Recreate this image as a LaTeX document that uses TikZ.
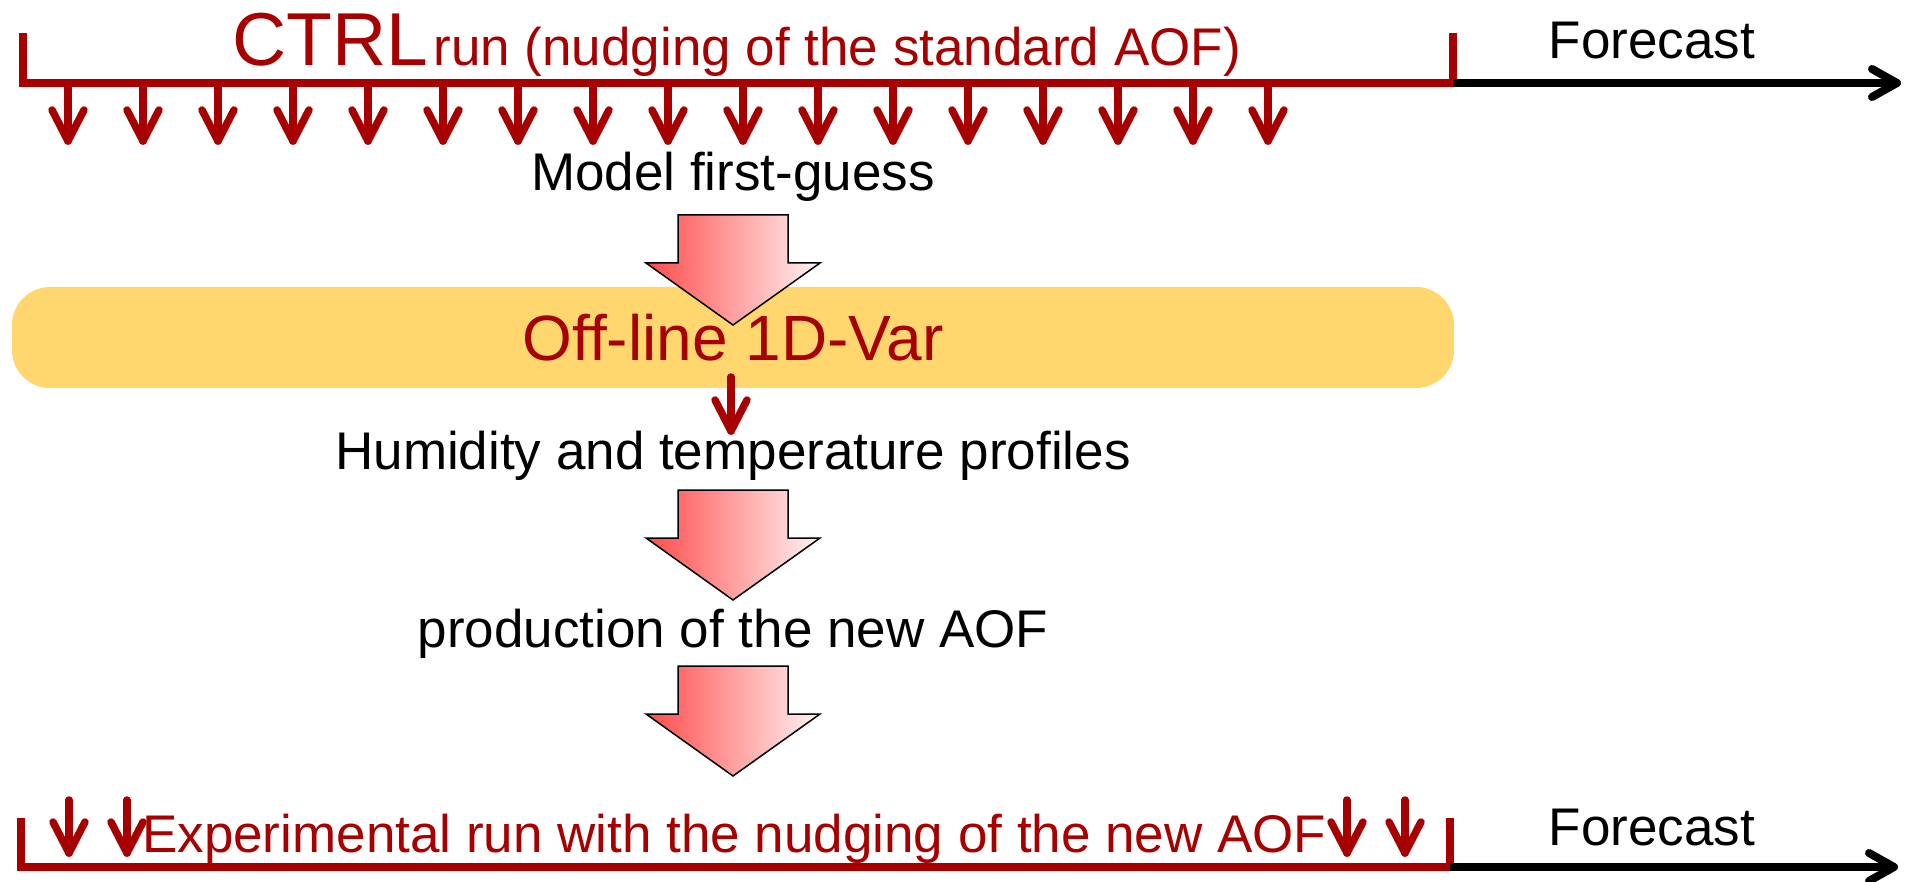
\documentclass[tikz,border=0pt]{standalone}
\usepackage{fontspec}
\setmainfont{Liberation Sans}
\definecolor{runred}{RGB}{166,0,0}
\definecolor{varyellow}{RGB}{255,215,110}
\definecolor{shadered}{RGB}{255,75,75}
\definecolor{shadepink}{RGB}{255,244,244}

\tikzset{
  runline/.style={draw=runred,line width=8pt,line join=miter},
  fcline/.style={draw=black,line width=8pt},
  obsdrop/.style={draw=runred,line width=7.5pt,line cap=round,line join=round},
  txt/.style={inner sep=0pt,anchor=base,font=\fontsize{53}{60}\selectfont},
  redtxt/.style={txt,text=runred},
  varbox/.style={fill=varyellow,rounded corners=38pt,minimum width=1442pt,minimum height=101pt,inner sep=0pt},
  % thin red arrow dropping from a time line
  obsarrow/.pic={
    \draw[obsdrop] (0,0) -- (0,#1);
    \draw[obsdrop] (-16,#1-31) -- (0,#1) -- (16,#1-31);
  },
  % shaded block arrow pointing down
  fatarrow/.pic={
    \draw[black,line width=1.5pt,left color=shadered,right color=shadepink]
      (-55,0) -- (55,0) -- (55,48) -- (87,48) -- (0,110) -- (-87,48) -- (-55,48) -- cycle;
  }
}

\begin{document}
\begin{tikzpicture}[x=1pt,y=-1pt]
\useasboundingbox (0,0) rectangle (1906,882);

% ---- control run time line ----
\coordinate (ctrlstart) at (23,83);
\coordinate (ctrlend) at (1453,83);
\coordinate (fctip) at (1897,83);
\draw[runline] ([yshift=50pt]ctrlstart) -- (ctrlstart) -- (ctrlend) -- ([yshift=50pt]ctrlend);
\draw[fcline] (ctrlend) -- (fctip);
\draw[fcline,line cap=round,line join=round] ([xshift=-25pt,yshift=-14pt]fctip) -- (fctip) -- ([xshift=-25pt,yshift=14pt]fctip);
\node[redtxt,anchor=base east] (ctrl) at (1241,66)
  {{\fontsize{75}{80}\selectfont CTRL}\hspace{5pt}run (nudging of the standard AOF)};
\node[txt] (fc1) at (1652,59) {Forecast};
\foreach \i in {0,...,16}
  \pic at ({68+75*\i},83) {obsarrow=58};

% ---- chain of processing steps ----
\node[txt] (guess) at (733,191) {Model first-guess};
\node[varbox] (var) at (733,337.5) {};
\pic at (733,215) {fatarrow};
\node[redtxt,font=\fontsize{64}{72}\selectfont] (vartxt) at (733,361) {Off-line 1D-Var};
\pic at (731,377) {obsarrow=54};
\node[txt] (prof) at (733,469) {Humidity and temperature profiles};
\pic at (733,490) {fatarrow};
\node[txt] (prod) at (733,647) {production of the new AOF};
\pic at (733,666) {fatarrow};

% ---- experimental run time line ----
\coordinate (expstart) at (21,867);
\coordinate (expend) at (1450,867);
\coordinate (fctip2) at (1894,867);
\draw[runline] ([yshift=49pt]expstart) -- (expstart) -- (expend) -- ([yshift=49pt]expend);
\draw[fcline] (expend) -- (fctip2);
\draw[fcline,line cap=round,line join=round] ([xshift=-25pt,yshift=-14pt]fctip2) -- (fctip2) -- ([xshift=-25pt,yshift=14pt]fctip2);
\foreach \x in {69,127,1347,1405}
  \pic at (\x,800) {obsarrow=53};
\node[redtxt,anchor=base west] (exp) at (142,852) {Experimental run with the nudging of the new AOF};
\node[txt] (fc2) at (1652,845) {Forecast};
\end{tikzpicture}
\end{document}
